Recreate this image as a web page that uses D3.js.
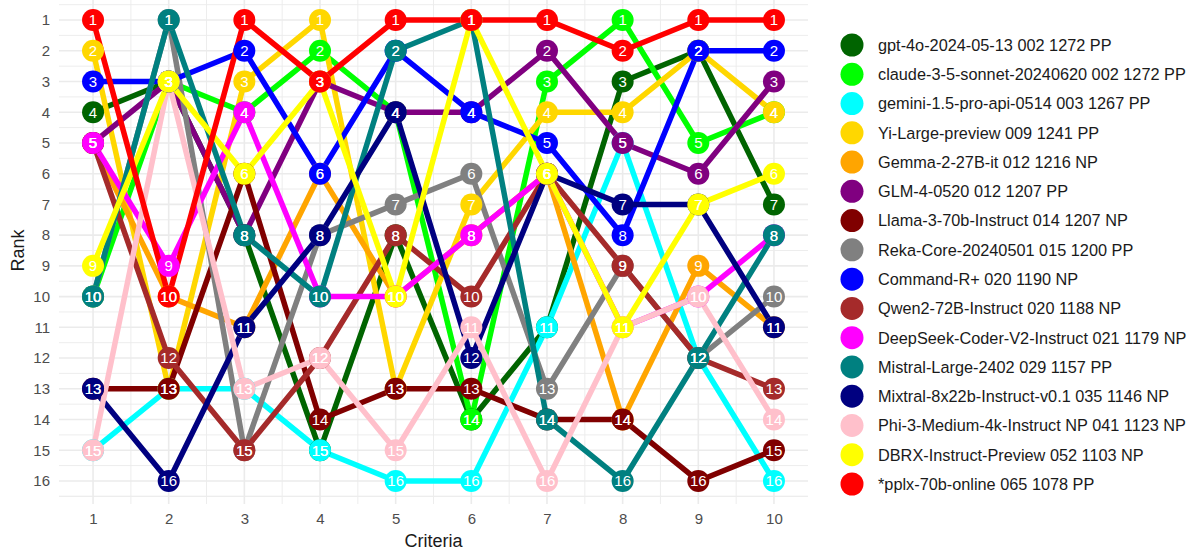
<!DOCTYPE html>
<html>
<head>
<meta charset="utf-8">
<script src="https://cdn.jsdelivr.net/npm/d3@7"></script>
<style>
  html, body { margin: 0; padding: 0; background: #fff; }
  svg { display: block; font-family: "Liberation Sans", Arial, sans-serif; }
</style>
</head>
<body>
<svg id="chart" width="1193" height="551"></svg>
<script>
const criteria = [1, 2, 3, 4, 5, 6, 7, 8, 9, 10];
const rankTicks = [1, 2, 3, 4, 5, 6, 7, 8, 9, 10, 11, 12, 13, 14, 15, 16];

const modelNames = [
  "gpt-4o-2024-05-13 002 1272 PP",
  "claude-3-5-sonnet-20240620 002 1272 PP",
  "gemini-1.5-pro-api-0514 003 1267 PP",
  "Yi-Large-preview 009 1241 PP",
  "Gemma-2-27B-it 012 1216 NP",
  "GLM-4-0520 012 1207 PP",
  "Llama-3-70b-Instruct 014 1207 NP",
  "Reka-Core-20240501 015 1200 PP",
  "Command-R+ 020 1190 NP",
  "Qwen2-72B-Instruct 020 1188 NP",
  "DeepSeek-Coder-V2-Instruct 021 1179 NP",
  "Mistral-Large-2402 029 1157 PP",
  "Mixtral-8x22b-Instruct-v0.1 035 1146 NP",
  "Phi-3-Medium-4k-Instruct NP 041 1123 NP",
  "DBRX-Instruct-Preview 052 1103 NP",
  "*pplx-70b-online 065 1078 PP"
];

const modelColors = [
  "#006400", "#00FF00", "#00FFFF", "#FFD700", "#FFA500", "#800080",
  "#800000", "#808080", "#0000FF", "#A52A2A", "#FF00FF", "#008080",
  "#000080", "#FFC0CB", "#FFFF00", "#FF0000"
];

const rankGpt4o    = [4, 3, 8, 15, 8, 14, 11, 3, 2, 7];
const rankClaude   = [10, 3, 4, 2, 4, 14, 3, 1, 5, 4];
const rankGemini   = [15, 13, 13, 15, 16, 16, 11, 5, 12, 16];
const rankYi       = [2, 13, 3, 1, 13, 7, 4, 4, 2, 4];
const rankGemma    = [5, 10, 11, 6, 10, 8, 6, 14, 9, 11];
const rankGLM      = [5, 3, 8, 3, 4, 4, 2, 5, 6, 3];
const rankLlama    = [13, 13, 6, 14, 13, 13, 14, 14, 16, 15];
const rankReka     = [10, 1, 15, 8, 7, 6, 13, 9, 12, 10];
const rankCommandR = [3, 3, 2, 6, 2, 4, 5, 8, 2, 2];
const rankQwen2    = [5, 12, 15, 12, 8, 10, 6, 9, 12, 13];
const rankDeepSeek = [5, 9, 4, 10, 10, 8, 6, 11, 10, 8];
const rankMistral  = [10, 1, 8, 10, 2, 1, 14, 16, 12, 8];
const rankMixtral  = [13, 16, 11, 8, 4, 12, 6, 7, 7, 11];
const rankPhi3     = [15, 3, 13, 12, 15, 11, 16, 11, 10, 14];
const rankDBRX     = [9, 3, 6, 3, 10, 1, 6, 11, 7, 6];
const rankPplx     = [1, 10, 1, 3, 1, 1, 1, 2, 1, 1];

const allRanks = [rankGpt4o, rankClaude, rankGemini, rankYi, rankGemma, rankGLM,
  rankLlama, rankReka, rankCommandR, rankQwen2, rankDeepSeek, rankMistral,
  rankMixtral, rankPhi3, rankDBRX, rankPplx];

const series = modelNames.map((name, i) => ({
  name, color: modelColors[i],
  values: criteria.map((c, j) => ({ c, r: allRanks[i][j] }))
}));

const svg = d3.select("#chart");
svg.append("rect").attr("width", 1193).attr("height", 551).attr("fill", "#fff");

const x = d3.scaleLinear().domain([0.55, 10.45]).range([59, 808]);
const y = d3.scaleLinear().domain([0.25, 16.75]).range([-3, 504]);

const grid = svg.append("g");
// minor gridlines
const xMinor = d3.range(1.5, 10, 1);
const yMinor = d3.range(1.5, 16.6, 1).concat([0.5, 16.5]);
grid.selectAll(".xmin").data(xMinor).enter().append("line")
  .attr("x1", d => x(d)).attr("x2", d => x(d)).attr("y1", y(0.25)).attr("y2", y(16.75))
  .attr("stroke", "#EBEBEB").attr("stroke-width", 0.9);
grid.selectAll(".ymin").data(yMinor).enter().append("line")
  .attr("x1", x(0.55)).attr("x2", x(10.45)).attr("y1", d => y(d)).attr("y2", d => y(d))
  .attr("stroke", "#EBEBEB").attr("stroke-width", 0.9);
// major gridlines
grid.selectAll(".xmaj").data(criteria).enter().append("line")
  .attr("x1", d => x(d)).attr("x2", d => x(d)).attr("y1", y(0.25)).attr("y2", y(16.75))
  .attr("stroke", "#EBEBEB").attr("stroke-width", 1.6);
grid.selectAll(".ymaj").data(rankTicks).enter().append("line")
  .attr("x1", x(0.55)).attr("x2", x(10.45)).attr("y1", d => y(d)).attr("y2", d => y(d))
  .attr("stroke", "#EBEBEB").attr("stroke-width", 1.6);

// axes (text only, like theme_minimal)
const yAxis = d3.axisLeft(y).tickValues(rankTicks).tickSize(0).tickPadding(9);
const yg = svg.append("g").attr("transform", `translate(${x(0.55)},0)`).call(yAxis);
yg.select(".domain").remove();
yg.selectAll("text").attr("fill", "#4D4D4D").style("font-size", "15px")
  .style("font-family", "Liberation Sans, Arial, sans-serif");

const xAxis = d3.axisBottom(x).tickValues(criteria).tickSize(0).tickPadding(9);
const xg = svg.append("g").attr("transform", `translate(0,${y(16.75)})`).call(xAxis);
xg.select(".domain").remove();
xg.selectAll("text").attr("fill", "#4D4D4D").style("font-size", "15px")
  .style("font-family", "Liberation Sans, Arial, sans-serif");

svg.append("text").attr("x", (x(0.55) + x(10.45)) / 2).attr("y", 547)
  .attr("text-anchor", "middle").attr("font-size", 18).attr("fill", "#1a1a1a").text("Criteria");
svg.append("text").attr("transform", `translate(24,${(y(0.25) + y(16.75)) / 2}) rotate(-90)`)
  .attr("text-anchor", "middle").attr("font-size", 18).attr("fill", "#1a1a1a").text("Rank");

const line = d3.line().x(d => x(d.c)).y(d => y(d.r));

svg.append("g").selectAll("path").data(series).enter().append("path")
  .attr("d", d => line(d.values)).attr("fill", "none")
  .attr("stroke", d => d.color).attr("stroke-width", 5.5)
  .attr("stroke-linejoin", "round");

const pts = svg.append("g");
series.forEach(s => {
  pts.selectAll(null).data(s.values).enter().append("circle")
    .attr("cx", d => x(d.c)).attr("cy", d => y(d.r)).attr("r", 11).attr("fill", s.color);
});
const lbl = svg.append("g");
series.forEach(s => {
  lbl.selectAll(null).data(s.values).enter().append("text")
    .attr("x", d => x(d.c)).attr("y", d => y(d.r)).attr("dy", "0.36em")
    .attr("text-anchor", "middle").attr("font-size", 15).attr("fill", "#fff")
    .text(d => d.r);
});

// legend
const leg = svg.append("g");
const legY = d3.scaleLinear().domain([0, 15]).range([45, 484]);
series.forEach((s, i) => {
  leg.append("circle").attr("cx", 852).attr("cy", legY(i)).attr("r", 11.5).attr("fill", s.color);
  leg.append("text").attr("x", 878).attr("y", legY(i)).attr("dy", "0.36em")
    .attr("font-size", 16.3).attr("fill", "#1a1a1a").text(s.name);
});
</script>
</body>
</html>
